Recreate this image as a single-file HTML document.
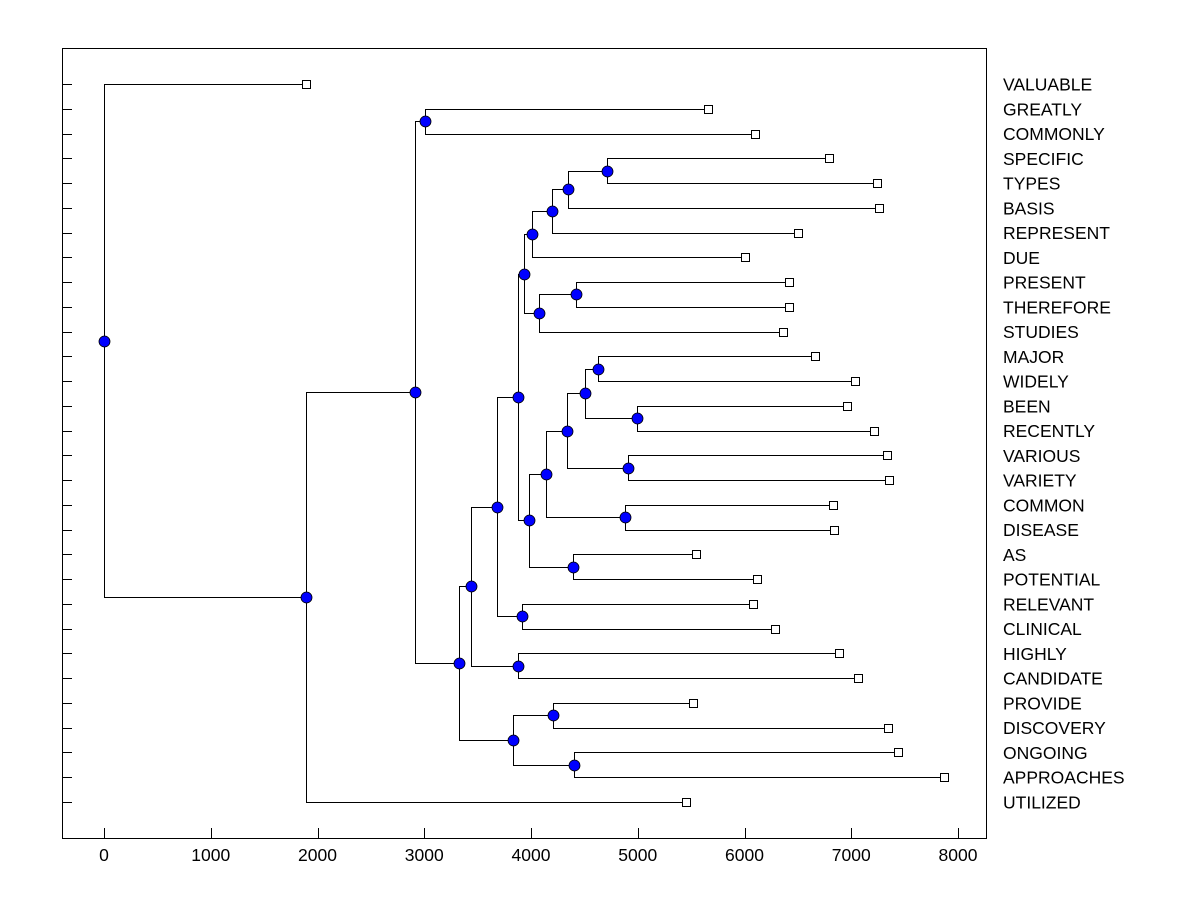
<!DOCTYPE html>
<html><head><meta charset="utf-8"><style>
body{margin:0;background:#fff}
svg{display:block;font-family:"Liberation Sans",Arial,sans-serif}
</style></head><body>
<svg id="chart" width="1200" height="900" xmlns="http://www.w3.org/2000/svg">
<rect x="62.5" y="48.5" width="924" height="790" fill="none" stroke="#000"/>
<g id="links"></g>
<g id="marks"></g>
<g id="axes"></g>
</svg>
<script>
const leafNames=["VALUABLE","GREATLY","COMMONLY","SPECIFIC","TYPES","BASIS","REPRESENT","DUE","PRESENT","THEREFORE","STUDIES","MAJOR","WIDELY","BEEN","RECENTLY","VARIOUS","VARIETY","COMMON","DISEASE","AS","POTENTIAL","RELEVANT","CLINICAL","HIGHLY","CANDIDATE","PROVIDE","DISCOVERY","ONGOING","APPROACHES","UTILIZED"];
const leafValues=[1890,5658,6098,6792,7241,7260,6501,6005,6417,6417,6361,6660,7035,6960,7213,7335,7354,6829,6838,5546,6117,6080,6286,6885,7063,5518,7344,7438,7869,5452];
const mergeLeft=[3,30,31,32,8,34,33,11,13,37,15,39,17,41,19,43,36,21,46,23,48,25,27,51,50,1,55,56,0];
const mergeRight=[4,5,6,7,9,10,35,12,14,38,16,40,18,42,20,44,45,22,47,24,49,26,28,52,53,2,54,29,57];
const mergeHeights=[4712,4347,4197,4009,4422,4075,3934,4628,4993,4506,4909,4337,4880,4141,4393,3981,3878,3916,3681,3878,3438,4206,4403,3831,3326,3007,2913,1890,0];
const xTicks=[0,1000,2000,3000,4000,5000,6000,7000,8000];

const NS="http://www.w3.org/2000/svg";
const xs=v=>104+v*0.10675;
const ys=i=>84+i*(802-84)/29;
function mk(tag,attrs,parent){const e=document.createElementNS(NS,tag);for(const k in attrs)e.setAttribute(k,attrs[k]);parent.appendChild(e);return e;}
const links=document.getElementById('links'),marks=document.getElementById('marks'),axes=document.getElementById('axes');
const n=leafNames.length;
const nodeX=[],nodeY=[];
for(let i=0;i<n;i++){nodeX[i]=xs(leafValues[i]);nodeY[i]=ys(i);}
mergeHeights.forEach((h,k)=>{
  const id=n+k,a=mergeLeft[k],b=mergeRight[k];
  nodeX[id]=xs(h);nodeY[id]=(nodeY[a]+nodeY[b])/2;
});
const px=v=>Math.round(v)+0.5;
mergeHeights.forEach((h,k)=>{
  const id=n+k,a=mergeLeft[k],b=mergeRight[k],x=px(nodeX[id]);
  const p=mk('path',{d:`M${px(nodeX[a])},${px(nodeY[a])}H${x}V${px(nodeY[b])}H${px(nodeX[b])}`,fill:'none',stroke:'#000','stroke-width':1},links);
  
  
});
for(let i=0;i<n;i++){
  const r=mk('rect',{x:px(nodeX[i])-4,y:px(nodeY[i])-4,width:8,height:8,fill:'#fff',stroke:'#000'},marks);
  
  
  const t=mk('text',{x:1003,y:nodeY[i]+6.5,'font-size':17.5,fill:'#000'},axes);
  t.textContent=leafNames[i];
  
  
  const tk=mk('line',{x1:62,x2:72,y1:px(nodeY[i]),y2:px(nodeY[i]),stroke:'#000'},axes);
  
  
}
mergeHeights.forEach((h,k)=>{
  const id=n+k;
  const c=mk('circle',{cx:px(nodeX[id]),cy:px(nodeY[id]),r:5.5,fill:'#0000ff',stroke:'#000','stroke-width':0.8},marks);
  
  
});
xTicks.forEach(v=>{
  const x=px(xs(v));
  const l=mk('line',{x1:x,x2:x,y1:828,y2:838,stroke:'#000'},axes);
  
  
  const t=mk('text',{x:xs(v),y:861,'font-size':17.5,'text-anchor':'middle',fill:'#000'},axes);
  t.textContent=v;
  
  
});
</script>
</body></html>
